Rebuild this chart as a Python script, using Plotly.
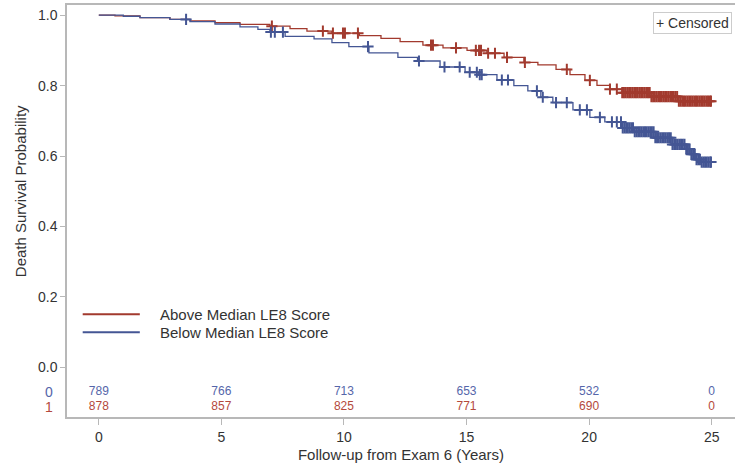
import bisect
import plotly.graph_objects as go

# ---------------- data ----------------
above_label = "Above Median LE8 Score"
below_label = "Below Median LE8 Score"

above_t = [0, 0.66, 1.68, 2.90, 3.72, 4.74, 5.76, 6.98, 7.80, 8.49, 9.51, 10.63, 11.51,
           12.29, 13.22, 14.04, 15.02, 15.83, 16.53, 17.34, 17.91, 18.65, 19.22, 19.83,
           20.32, 20.85, 21.34, 22.52, 23.62, 25.0]
above_s = [1.0, 0.998, 0.993, 0.988, 0.984, 0.979, 0.974, 0.969, 0.962, 0.955, 0.949, 0.942,
           0.934, 0.925, 0.915, 0.907, 0.900, 0.892, 0.880, 0.866, 0.859, 0.846, 0.831, 0.815,
           0.801, 0.790, 0.780, 0.769, 0.756, 0.756]

below_t = [0, 1.0, 1.68, 2.90, 3.72, 4.74, 5.76, 6.49, 6.98, 7.6, 8.78, 9.51, 10.2, 11.02,
           12.2, 13.0, 13.92, 14.94, 15.5, 16.24, 16.93, 17.5, 18.03, 18.52, 19.34, 20.03,
           20.64, 21.34, 21.83, 22.64, 23.34, 23.95, 24.15, 24.35, 24.56, 25.0]
below_s = [1.0, 0.997, 0.993, 0.988, 0.982, 0.975, 0.967, 0.960, 0.952, 0.940, 0.933, 0.922,
           0.911, 0.893, 0.880, 0.870, 0.853, 0.838, 0.831, 0.816, 0.800, 0.785, 0.767, 0.752,
           0.731, 0.710, 0.697, 0.680, 0.669, 0.652, 0.633, 0.620, 0.605, 0.590, 0.583, 0.583]

above_censor = [7.06, 9.14, 9.55, 9.96, 10.04, 10.57, 13.55, 13.63, 14.57, 15.38, 15.51, 15.59,
                15.88, 16.16, 16.65, 17.38, 19.09, 20.03, 20.85, 21.13,
                21.35, 21.42, 21.49, 21.56, 21.63, 21.70, 21.77, 21.84, 21.91, 21.98, 22.05,
                22.12, 22.19, 22.26, 22.33, 22.40, 22.47, 22.54, 22.61, 22.68, 22.75, 22.82,
                22.89, 22.96, 23.03, 23.10, 23.17, 23.24, 23.31, 23.38, 23.45, 23.52, 23.59,
                23.66, 23.73, 23.80, 23.87, 23.94, 24.01, 24.08, 24.15, 24.22, 24.29, 24.36,
                24.43, 24.50, 24.57, 24.64, 24.71, 24.78, 24.85, 24.92, 24.97]
below_censor = [3.56, 7.02, 7.18, 7.51, 10.98, 13.06, 14.10, 14.72, 15.13, 15.42, 15.54, 15.62,
                16.44, 16.69, 17.87, 18.11, 18.65, 19.09, 19.62, 19.91, 20.44, 20.93, 21.13,
                21.30, 21.37, 21.44, 21.51, 21.58, 21.65, 21.72, 21.79, 21.86, 21.93, 22.00,
                22.07, 22.14, 22.21, 22.28, 22.35, 22.42, 22.49, 22.56, 22.63, 22.70, 22.77,
                22.84, 22.91, 22.98, 23.05, 23.12, 23.19, 23.26, 23.33, 23.40, 23.47, 23.54,
                23.61, 23.68, 23.75, 23.82, 23.89, 23.96, 24.03, 24.10, 24.17, 24.24, 24.31,
                24.38, 24.45, 24.52, 24.59, 24.66, 24.73, 24.80, 24.87, 24.94, 24.97]

risk_times = [0, 5, 10, 15, 20, 25]
risk_below = [789, 766, 713, 653, 532, 0]   # group 0
risk_above = [878, 857, 825, 771, 690, 0]   # group 1
risk_groups = ["0", "1"]

x_ticks = [0, 5, 10, 15, 20, 25]
y_ticks = [0.0, 0.2, 0.4, 0.6, 0.8, 1.0]

RED = "#A23A2E"
BLUE = "#445694"
RED_TXT = "#B4493C"
BLUE_TXT = "#5566AA"
FONT = "Liberation Sans, Arial, sans-serif"
TXT = "#333333"
GRID = "#B8B8B8"


def surv_at(ts, ss, t):
    i = bisect.bisect_right(ts, t) - 1
    return ss[max(i, 0)]


fig = go.Figure()
fig.add_trace(go.Scatter(x=above_t, y=above_s, mode="lines", line=dict(color=RED, width=1.3, shape="hv"),
                         name=above_label, showlegend=False))
fig.add_trace(go.Scatter(x=below_t, y=below_s, mode="lines", line=dict(color=BLUE, width=1.3, shape="hv"),
                         name=below_label, showlegend=False))
fig.add_trace(go.Scatter(x=above_censor, y=[surv_at(above_t, above_s, t) for t in above_censor],
                         mode="markers", marker=dict(symbol="cross-thin", size=8,
                                                     line=dict(color=RED, width=2)),
                         showlegend=False, name="Censored"))
fig.add_trace(go.Scatter(x=below_censor, y=[surv_at(below_t, below_s, t) for t in below_censor],
                         mode="markers", marker=dict(symbol="cross-thin", size=8,
                                                     line=dict(color=BLUE, width=2)),
                         showlegend=False, name="Censored"))

# at-risk table rows inside plot area
row_y = [-0.070, -0.113]
fig.add_trace(go.Scatter(x=risk_times, y=[row_y[0]] * len(risk_times), mode="text",
                         text=[str(v) for v in risk_below],
                         textfont=dict(color=BLUE_TXT, size=12, family=FONT), showlegend=False,
                         hoverinfo="skip"))
fig.add_trace(go.Scatter(x=risk_times, y=[row_y[1]] * len(risk_times), mode="text",
                         text=[str(v) for v in risk_above],
                         textfont=dict(color=RED_TXT, size=12, family=FONT), showlegend=False,
                         hoverinfo="skip"))

annotations = []
for g, yy, c in zip(risk_groups, row_y, [BLUE_TXT, RED_TXT]):
    annotations.append(dict(x=-0.027, xref="paper", y=yy, yref="y", text=g, showarrow=False,
                            xanchor="center", yanchor="middle",
                            font=dict(color=c, size=14, family=FONT)))

# y-axis title, centred on the 0-1 probability range as in the reference
annotations.append(dict(x=-0.0705, xref="paper", y=0.5, yref="y", text="Death Survival Probability",
                        textangle=-90, showarrow=False, xanchor="center", yanchor="middle",
                        font=dict(color=TXT, size=15, family=FONT)))

# censored key box
annotations.append(dict(x=0.9955, xref="paper", y=0.983, yref="paper", text="+ Censored",
                        showarrow=False, xanchor="right", yanchor="top",
                        font=dict(color=TXT, size=14, family=FONT),
                        bordercolor="#CCCCCC", borderwidth=1, borderpad=2, bgcolor="white"))

# legend (drawn manually to match long sample lines)
shapes = []
leg = [(above_label, RED, 0.2495), (below_label, BLUE, 0.2058)]
for lab, col, yp in leg:
    shapes.append(dict(type="line", xref="paper", yref="paper", x0=0.0235, x1=0.109,
                       y0=yp, y1=yp, line=dict(color=col, width=2)))
    annotations.append(dict(x=0.136, xref="paper", y=yp, yref="paper", text=lab, showarrow=False,
                            xanchor="left", yanchor="middle",
                            font=dict(color=TXT, size=15, family=FONT)))

fig.update_layout(
    width=735, height=473,
    margin=dict(l=67, r=0, t=5, b=56, autoexpand=False),
    paper_bgcolor="white", plot_bgcolor="white",
    font=dict(family=FONT, color=TXT, size=14),
    shapes=shapes, annotations=annotations,
    showlegend=False,
    xaxis=dict(range=[-1.297, 25.95], tickmode="array", tickvals=x_ticks, automargin=False,
               ticks="outside", ticklen=6, tickcolor=GRID, showgrid=False, zeroline=False,
               showline=True, linecolor=GRID, linewidth=1.5, mirror=True,
               tickfont=dict(size=14, color=TXT),
               title=dict(text="Follow-up from Exam 6 (Years)", font=dict(size=15, color=TXT), standoff=6)),
    yaxis=dict(range=[-0.141, 1.029], tickmode="array", tickvals=y_ticks, automargin=False,
               ticktext=[f"{v:.1f}" for v in y_ticks],
               ticks="outside", ticklen=5, tickcolor=GRID, showgrid=False, zeroline=False,
               showline=True, linecolor=GRID, linewidth=1.5, mirror=True,
               tickfont=dict(size=14, color=TXT)),
)

fig.write_html("out.html", config={"displayModeBar": False},
               post_script="document.body.style.margin='0px';")
